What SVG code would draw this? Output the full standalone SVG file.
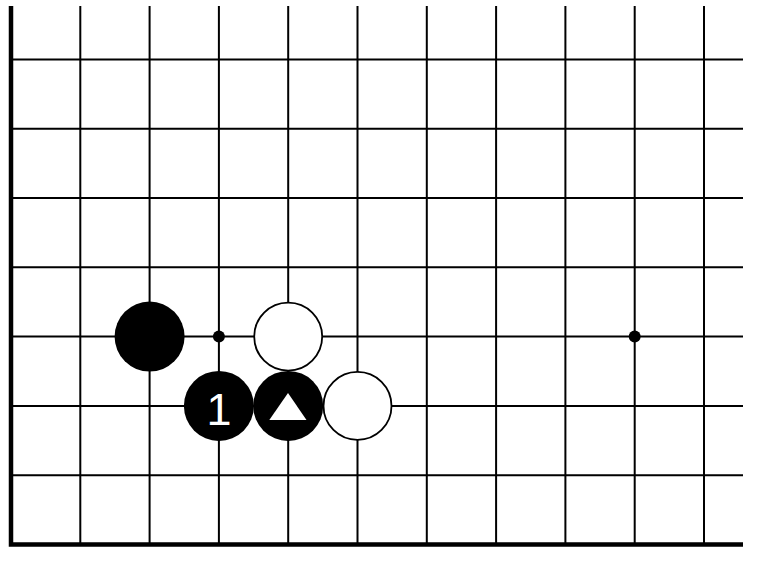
<svg xmlns="http://www.w3.org/2000/svg" width="760" height="562" viewBox="0 0 760 562">
<style>
.g{stroke:#000;stroke-width:2;fill:none}
.edge{stroke:#000;stroke-width:4.5;fill:none}
.b{fill:#000}
.w{fill:#fff;stroke:#000;stroke-width:1.8}
.hoshi{fill:#000}
.lbl{font-family:"Liberation Sans",Arial,sans-serif;font-size:45px;fill:#fff;text-anchor:middle}
</style>
<rect width="760" height="562" fill="#fff"/>
<g id="grid">
<path class="g" d="M80.3 6V544.5M149.6 6V544.5M218.9 6V544.5M288.2 6V544.5M357.5 6V544.5M426.8 6V544.5M496.1 6V544.5M565.4 6V544.5M634.7 6V544.5M704 6V544.5"/>
<path class="g" d="M11 59.4H743M11 128.7H743M11 198H743M11 267.3H743M11 336.6H743M11 405.9H743M11 475.2H743"/>
<path class="edge" d="M11 6V546.7M8.8 544.5H743"/>
</g>
<g id="hoshi1"><circle class="hoshi" cx="218.9" cy="336.6" r="6"/></g>
<g id="hoshi2"><circle class="hoshi" cx="634.7" cy="336.6" r="6"/></g>
<g id="stone-b1"><circle class="b" cx="149.6" cy="336.6" r="35"/></g>
<g id="stone-w1"><circle class="w" cx="288.2" cy="336.6" r="34"/></g>
<g id="stone-b2"><circle class="b" cx="218.9" cy="405.9" r="35"/><text class="lbl" x="218.9" y="425">1</text></g>
<g id="stone-b3"><circle class="b" cx="288.2" cy="405.9" r="35"/><polygon fill="#fff" points="288,393 269.3,420 306.5,420"/></g>
<g id="stone-w2"><circle class="w" cx="357.5" cy="405.9" r="34"/></g>
</svg>
